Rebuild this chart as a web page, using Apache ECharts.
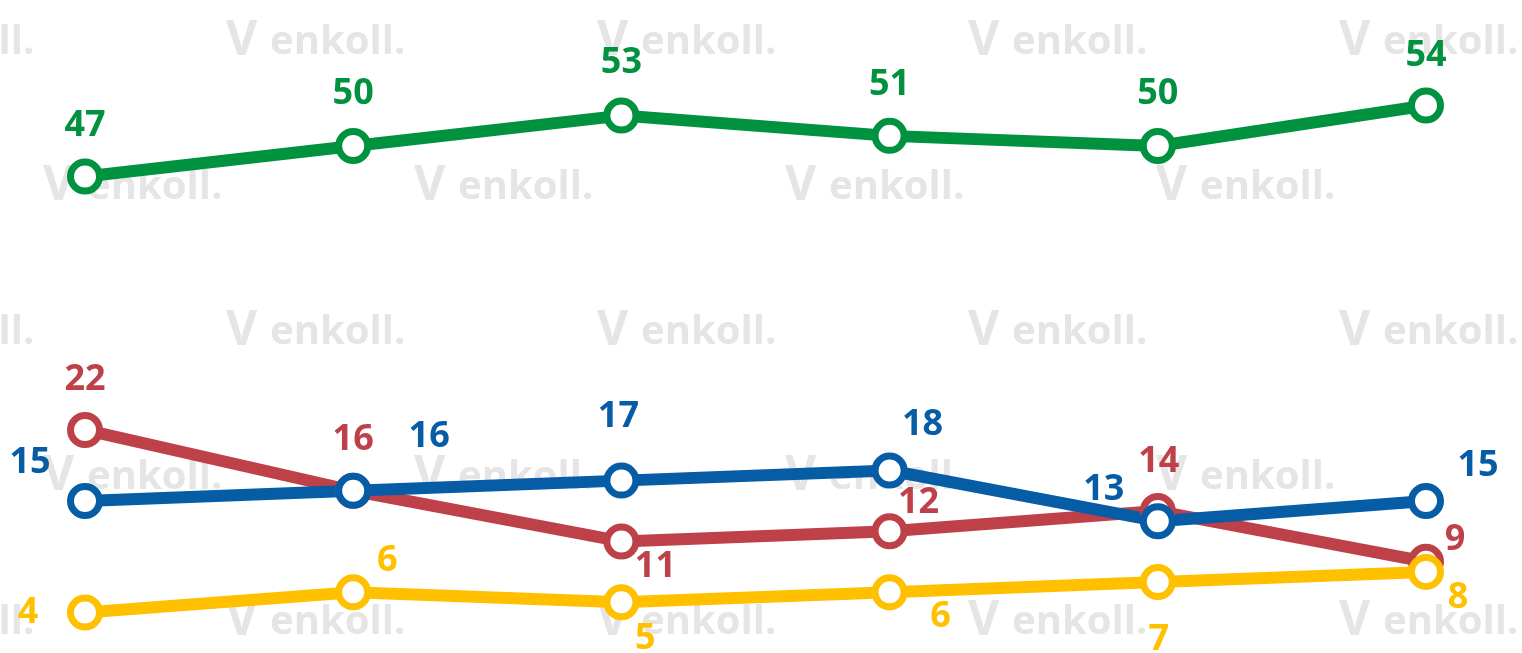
<!DOCTYPE html>
<html>
<head>
<meta charset="utf-8">
<script src="https://cdn.jsdelivr.net/npm/echarts@6/dist/echarts.min.js"></script>
<style>
  html, body { margin: 0; padding: 0; background: #fff; }
  #chart { width: 1522px; height: 653px; }
</style>
</head>
<body>
<div id="chart"></div>
<script>
// six survey waves, no visible axis labels
const categories = ['1', '2', '3', '4', '5', '6'];

const greenValues  = [47, 50, 53, 51, 50, 54];
const redValues    = [22, 16, 11, 12, 14, 9];
const blueValues   = [15, 16, 17, 18, 13, 15];
const yellowValues = [4, 6, 5, 6, 7, 8];

// label offsets from each point (px)
const greenOffsets  = [[0, -51], [0, -52], [0, -53], [0, -51], [0, -52], [0, -50]];
const redOffsets    = [[0, -50], [0, -51], [34, 25], [29, -29], [1, -49], [29, -22]];
const blueOffsets   = [[-55, -38], [76, -54], [-3, -64], [33, -46], [-54, -31], [52, -35]];
const yellowOffsets = [[-57, 0], [34, -31], [24, 36], [51, 25], [1, 58], [32, 26]];

const chart = echarts.init(document.getElementById('chart'));

function makeSeries(name, values, offsets, color) {
  return {
    name: name,
    type: 'line',
    data: values.map((v, i) => ({
      value: v,
      label: { offset: offsets[i] }
    })),
    symbol: 'circle',
    symbolSize: 29,
    lineStyle: { color: color, width: 12 },
    itemStyle: { color: '#fff', borderColor: color, borderWidth: 7 },
    label: {
      show: true,
      position: 'inside',
      color: color,
      fontFamily: 'Open Sans',
      fontWeight: 'bold',
      fontSize: 36
    },
    emphasis: { disabled: true },
    animation: false
  };
}

// watermark grid (y is top of text box)
const watermark = [];
const rowY = [23, 168, 313, 458, 603];
rowY.forEach((y, r) => {
  const start = r % 2 === 0 ? -101 : 87;
  for (let x = start; x < 1600; x += 371) {
    watermark.push({
      type: 'text', x: x - 44, y: y - 6, z: -10,
      style: { text: 'V', fill: '#e5e5e5', font: 'bold 48px "Open Sans"' }
    });
    watermark.push({
      type: 'text', x: x, y: y, z: -10,
      style: { text: 'enkoll.', fill: '#e5e5e5', font: 'bold 40px "Open Sans"' }
    });
  }
});

chart.setOption({
  backgroundColor: '#fff',
  animation: false,
  grid: { left: 85, right: 96, top: 0, bottom: 0 },
  xAxis: {
    type: 'category',
    data: categories,
    boundaryGap: false,
    show: false
  },
  yAxis: {
    type: 'value',
    min: 0,
    max: 64.4,
    show: false
  },
  graphic: watermark,
  series: [
    makeSeries('green', greenValues, greenOffsets, '#00923f'),
    makeSeries('red', redValues, redOffsets, '#be4149'),
    makeSeries('blue', blueValues, blueOffsets, '#075ca6'),
    makeSeries('yellow', yellowValues, yellowOffsets, '#ffc000')
  ]
});
</script>
</body>
</html>
